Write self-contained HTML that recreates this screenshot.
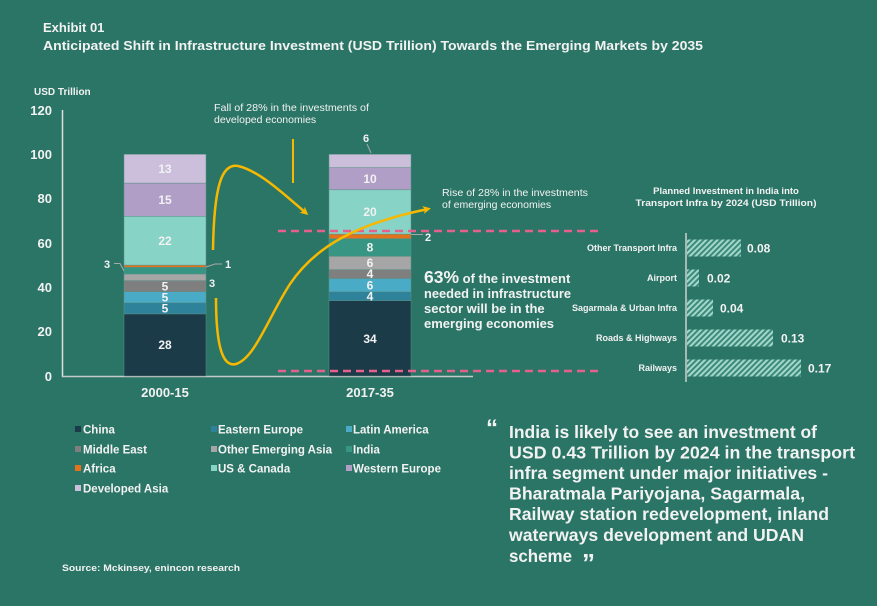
<!DOCTYPE html>
<html><head><meta charset="utf-8"><style>
html,body{margin:0;padding:0;background:#2b7567;}
svg{display:block;}
text{font-family:"Liberation Sans",Arial,sans-serif;fill:#f2f2f2;}
.b{font-weight:bold;}
</style></head><body>
<svg width="877" height="606" viewBox="0 0 877 606" xmlns="http://www.w3.org/2000/svg">
<defs>
<pattern id="hatch" patternUnits="userSpaceOnUse" width="4" height="4" patternTransform="rotate(45)">
<rect width="4" height="4" fill="#3d8a7a"/>
<rect width="2" height="4" fill="#a2d8cb"/>
</pattern>
<marker id="arr" markerWidth="8" markerHeight="8" refX="5" refY="4" orient="auto" markerUnits="userSpaceOnUse">
<path d="M0,0 L8,4 L0,8 L2,4 Z" fill="#f7b800"/>
</marker>
</defs>
<rect width="877" height="606" fill="#2b7567"/>

<!-- Title -->
<text x="43" y="32" class="b" font-size="13">Exhibit 01</text>
<text x="43" y="50" class="b" font-size="13" textLength="660" lengthAdjust="spacingAndGlyphs">Anticipated Shift in Infrastructure Investment (USD Trillion) Towards the Emerging Markets by 2035</text>

<!-- Y axis -->
<text x="34" y="95" class="b" font-size="10">USD Trillion</text>
<g class="b" font-size="13" text-anchor="end">
<text x="52" y="115">120</text>
<text x="52" y="159">100</text>
<text x="52" y="203">80</text>
<text x="52" y="248">60</text>
<text x="52" y="292">40</text>
<text x="52" y="336">20</text>
<text x="52" y="381">0</text>
</g>
<line x1="62.5" y1="110" x2="62.5" y2="377" stroke="#e0e0e0" stroke-width="1.5"/>
<line x1="62" y1="376.5" x2="473" y2="376.5" stroke="#c9c9c9" stroke-width="1.5"/>

<!-- Bar 1 -->
<g stroke="#5c8f87" stroke-width="0.5">
<rect x="124" y="313.9" width="82" height="62.1" fill="#1a3b47"/>
<rect x="124" y="302.8" width="82" height="11.1" fill="#2e8299"/>
<rect x="124" y="291.7" width="82" height="11.1" fill="#4aabc6"/>
<rect x="124" y="280.6" width="82" height="11.1" fill="#7f7f7f"/>
<rect x="124" y="274.0" width="82" height="6.6" fill="#a6a6a6"/>
<rect x="124" y="267.3" width="82" height="6.7" fill="#379683"/>
<rect x="124" y="265.1" width="82" height="2.2" fill="#e2731c"/>
<rect x="124" y="216.3" width="82" height="48.8" fill="#87d4c7"/>
<rect x="124" y="183.1" width="82" height="33.2" fill="#b09ec7"/>
<rect x="124" y="154.3" width="82" height="28.8" fill="#cbbfdb"/>
</g>
<g class="b" font-size="12" text-anchor="middle">
<text x="165" y="349">28</text>
<text x="165" y="312.5">5</text>
<text x="165" y="301.5">5</text>
<text x="165" y="290.5">5</text>
<text x="165" y="245">22</text>
<text x="165" y="204">15</text>
<text x="165" y="173">13</text>
</g>
<g font-size="11" class="b">
<text x="104" y="268">3</text>
<text x="225" y="268">1</text>
<text x="209" y="287">3</text>
</g>
<polyline points="114,263.5 120,263.5 124,271" fill="none" stroke="#a8a8a8" stroke-width="1"/>
<polyline points="206,267 215,264 222,264" fill="none" stroke="#a8a8a8" stroke-width="1"/>

<!-- Bar 2 -->
<g stroke="#5c8f87" stroke-width="0.5">
<rect x="329" y="300.6" width="82" height="75.4" fill="#1a3b47"/>
<rect x="329" y="291.8" width="82" height="8.8" fill="#2e8299"/>
<rect x="329" y="278.5" width="82" height="13.3" fill="#4aabc6"/>
<rect x="329" y="269.6" width="82" height="8.9" fill="#7f7f7f"/>
<rect x="329" y="256.3" width="82" height="13.3" fill="#a6a6a6"/>
<rect x="329" y="238.6" width="82" height="17.7" fill="#379683"/>
<rect x="329" y="234.1" width="82" height="4.5" fill="#e2731c"/>
<rect x="329" y="189.8" width="82" height="44.3" fill="#87d4c7"/>
<rect x="329" y="167.6" width="82" height="22.2" fill="#b09ec7"/>
<rect x="329" y="154.3" width="82" height="13.3" fill="#cbbfdb"/>
</g>
<g class="b" font-size="12" text-anchor="middle">
<text x="370" y="343">34</text>
<text x="370" y="300.5">4</text>
<text x="370" y="289.5">6</text>
<text x="370" y="278">4</text>
<text x="370" y="267">6</text>
<text x="370" y="251.5">8</text>
<text x="370" y="216">20</text>
<text x="370" y="183">10</text>
</g>
<g font-size="11" class="b">
<text x="363" y="142">6</text>
<text x="425" y="241">2</text>
</g>
<line x1="367" y1="144" x2="371" y2="153" stroke="#a8a8a8" stroke-width="1"/>
<line x1="411" y1="234.5" x2="423" y2="234.5" stroke="#a8a8a8" stroke-width="1"/>

<!-- categories -->
<text x="165" y="397" class="b" font-size="13" text-anchor="middle">2000-15</text>
<text x="370" y="397" class="b" font-size="13" text-anchor="middle">2017-35</text>

<!-- pink dashed -->
<line x1="278" y1="231" x2="598" y2="231" stroke="#e6608e" stroke-width="2.5" stroke-dasharray="8,5"/>
<line x1="278" y1="371" x2="598" y2="371" stroke="#e6608e" stroke-width="2.5" stroke-dasharray="8,5"/>

<!-- yellow curves -->
<path d="M213,250 C214,185 222,163 238,166 C260,171 286,196 306,213" fill="none" stroke="#f7b800" stroke-width="2.5" marker-end="url(#arr)"/>
<path d="M216,298 C216,340 221,368 236,364 C255,358 268,318 290,284 C315,247 355,224 428,209" fill="none" stroke="#f7b800" stroke-width="2.5" marker-end="url(#arr)"/>
<line x1="293" y1="139" x2="293" y2="183" stroke="#f7b800" stroke-width="2"/>

<!-- annotations -->
<text x="214" y="111" font-size="10.5" textLength="155" lengthAdjust="spacingAndGlyphs">Fall of 28% in the investments of</text>
<text x="214" y="123" font-size="10.5">developed economies</text>
<text x="442" y="196" font-size="10.5" textLength="146" lengthAdjust="spacingAndGlyphs">Rise of 28% in the investments</text>
<text x="442" y="208" font-size="10.5">of emerging economies</text>

<text x="424" y="283" class="b"><tspan font-size="17.5">63%</tspan><tspan font-size="13"> of the investment</tspan></text>
<text x="424" y="298" class="b" font-size="13" textLength="147" lengthAdjust="spacingAndGlyphs">needed in infrastructure</text>
<text x="424" y="313" class="b" font-size="13">sector will be in the</text>
<text x="424" y="328" class="b" font-size="13">emerging economies</text>

<!-- right chart -->
<text x="726" y="194" class="b" font-size="9.5" text-anchor="middle">Planned Investment in India into</text>
<text x="726" y="206" class="b" font-size="9.5" text-anchor="middle" textLength="181" lengthAdjust="spacingAndGlyphs">Transport Infra by 2024 (USD Trillion)</text>
<line x1="686" y1="233" x2="686" y2="382" stroke="#d0d0d0" stroke-width="1.5"/>
<g fill="url(#hatch)">
<rect x="687" y="239.5" width="54" height="17"/>
<rect x="687" y="269.5" width="12" height="17"/>
<rect x="687" y="299.5" width="26" height="17"/>
<rect x="687" y="329.5" width="86" height="17"/>
<rect x="687" y="359.5" width="114" height="17"/>
</g>
<g class="b" font-size="9" text-anchor="end">
<text x="677" y="251">Other Transport Infra</text>
<text x="677" y="281">Airport</text>
<text x="677" y="311">Sagarmala &amp; Urban Infra</text>
<text x="677" y="341">Roads &amp; Highways</text>
<text x="677" y="371">Railways</text>
</g>
<g class="b" font-size="12">
<text x="747" y="252.5">0.08</text>
<text x="707" y="282.5">0.02</text>
<text x="720" y="312.5">0.04</text>
<text x="781" y="342.5">0.13</text>
<text x="808" y="372.5">0.17</text>
</g>

<!-- legend -->
<g>
<rect x="75" y="426" width="6" height="6" fill="#1a3b47"/>
<rect x="75" y="446" width="6" height="6" fill="#7f7f7f"/>
<rect x="75" y="465" width="6" height="6" fill="#e2731c"/>
<rect x="75" y="485" width="6" height="6" fill="#cbbfdb"/>
<rect x="211" y="426" width="6" height="6" fill="#2e8299"/>
<rect x="211" y="446" width="6" height="6" fill="#a6a6a6"/>
<rect x="211" y="465" width="6" height="6" fill="#87d4c7"/>
<rect x="346" y="426" width="6" height="6" fill="#4aabc6"/>
<rect x="346" y="446" width="6" height="6" fill="#379683"/>
<rect x="346" y="465" width="6" height="6" fill="#b09ec7"/>
</g>
<g class="b" font-size="11.5">
<text x="83" y="433.5">China</text>
<text x="83" y="453.5">Middle East</text>
<text x="83" y="472.5">Africa</text>
<text x="83" y="492.5">Developed Asia</text>
<text x="218" y="433.5">Eastern Europe</text>
<text x="218" y="453.5">Other Emerging Asia</text>
<text x="218" y="472.5">US &amp; Canada</text>
<text x="353" y="433.5">Latin America</text>
<text x="353" y="453.5">India</text>
<text x="353" y="472.5">Western Europe</text>
</g>

<!-- quote -->
<text x="486" y="436" class="b" font-size="24">“</text>
<g class="b" font-size="17.5">
<text x="509" y="438" textLength="308" lengthAdjust="spacingAndGlyphs">India is likely to see an investment of</text>
<text x="509" y="458.5" textLength="346" lengthAdjust="spacingAndGlyphs">USD 0.43 Trillion by 2024 in the transport</text>
<text x="509" y="479" textLength="319" lengthAdjust="spacingAndGlyphs">infra segment under major initiatives -</text>
<text x="509" y="499.5" textLength="296" lengthAdjust="spacingAndGlyphs">Bharatmala Pariyojana, Sagarmala,</text>
<text x="509" y="520" textLength="320" lengthAdjust="spacingAndGlyphs">Railway station redevelopment, inland</text>
<text x="509" y="541" textLength="295" lengthAdjust="spacingAndGlyphs">waterways development and UDAN</text>
<text x="509" y="562" textLength="63" lengthAdjust="spacingAndGlyphs">scheme</text>
</g>
<text x="582" y="572" class="b" font-size="26">”</text>

<!-- source -->
<text x="62" y="571" class="b" font-size="9.5" textLength="178" lengthAdjust="spacingAndGlyphs">Source: Mckinsey, enincon research</text>
</svg>
</body></html>
